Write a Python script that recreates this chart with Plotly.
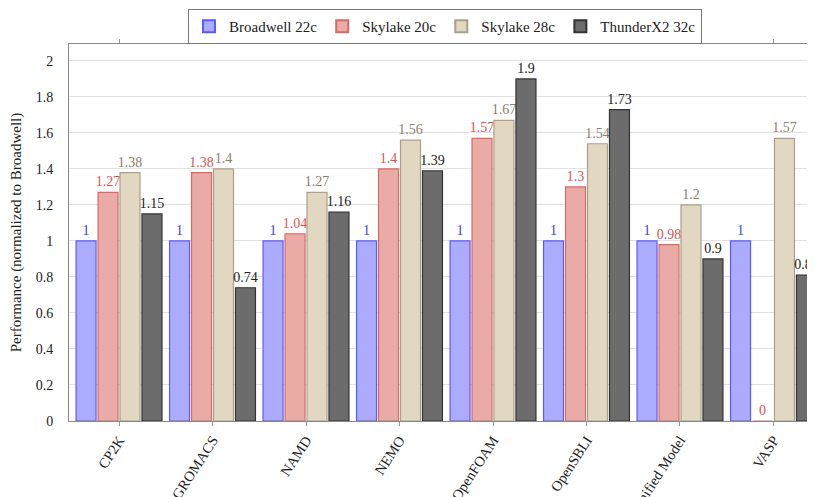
import plotly.graph_objects as go

categories = ["CP2K", "GROMACS", "NAMD", "NEMO", "OpenFOAM", "OpenSBLI", "Unified Model", "VASP"]
broadwell_22c = [1, 1, 1, 1, 1, 1, 1, 1]
skylake_20c = [1.27, 1.38, 1.04, 1.4, 1.57, 1.3, 0.98, 0]
skylake_28c = [1.38, 1.4, 1.27, 1.56, 1.67, 1.54, 1.2, 1.57]
thunderx2_32c = [1.15, 0.74, 1.16, 1.39, 1.9, 1.73, 0.9, 0.81]
y_ticks = [0, 0.2, 0.4, 0.6, 0.8, 1, 1.2, 1.4, 1.6, 1.8, 2]
y_tick_labels = ["0", "0.2", "0.4", "0.6", "0.8", "1", "1.2", "1.4", "1.6", "1.8", "2"]

series = [
    ("Broadwell 22c", broadwell_22c, "#ababff", "#5a5aff", "#3c3cf0"),
    ("Skylake 20c", skylake_20c, "#eaaaa5", "#d66a66", "#dc5550"),
    ("Skylake 28c", skylake_28c, "#e2d7c1", "#aaa08a", "#8a806c"),
    ("ThunderX2 32c", thunderx2_32c, "#6c6c6c", "#333333", "#222222"),
]

x_idx = list(range(len(categories)))
fig = go.Figure()
for name, vals, fill, line, tcol in series:
    fig.add_trace(go.Bar(
        name=name, x=x_idx, y=vals,
        marker=dict(color=fill, line=dict(color=line, width=1.2)),
        text=[f"{v:g}" for v in vals], textposition="outside",
        textfont=dict(family="Liberation Serif", size=14, color=tcol),
        constraintext="none", cliponaxis=False,
    ))

# the page body has an 8px margin, so the figure is 8px smaller than the window
fig.update_layout(
    width=807, height=489,
    margin=dict(l=61, r=0, t=36, b=76, autoexpand=False),
    barmode="group", bargap=0.06, bargroupgap=0.09,
    plot_bgcolor="white", paper_bgcolor="white",
    font=dict(family="Liberation Serif", size=13, color="#222"),
    showlegend=True,
    legend=dict(orientation="h", x=0.504, xanchor="center", y=1.093, yanchor="top",
                bordercolor="#777", borderwidth=1, font=dict(size=15),
                itemwidth=30, traceorder="normal", tracegroupgap=0,
                itemsizing="constant"),
    xaxis=dict(range=[-0.535, 7.444], tickmode="array", tickvals=x_idx, ticktext=categories,
               tickangle=-57, ticks="outside", ticklen=4, tickcolor="#999",
               showline=True, linecolor="#888", mirror="ticks", showgrid=False,
               tickfont=dict(size=14.5), automargin=False),
    yaxis=dict(range=[0, 2.094], tickmode="array", tickvals=y_ticks, ticktext=y_tick_labels,
               showgrid=True, gridcolor="#e2e2e2", showline=True, linecolor="#888",
               mirror=True, ticks="", zeroline=False, automargin=False,
               ticklabelstandoff=12,
               title=dict(text="Performance (normalized to Broadwell)", font=dict(size=15), standoff=10),
               tickfont=dict(size=14)),
)

fig.write_html("out.html")
